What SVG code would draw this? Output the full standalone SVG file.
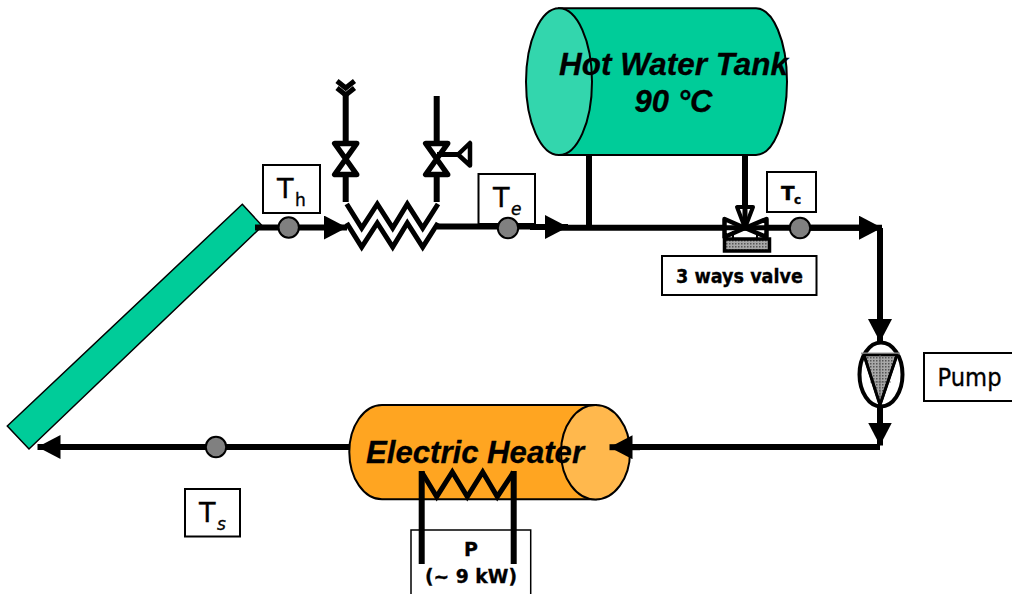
<svg xmlns="http://www.w3.org/2000/svg" width="1012" height="594" viewBox="0 0 1012 594">
<style>
.box{fill:#fff;stroke:#000;stroke-width:2}
.pipe{fill:none;stroke:#000;stroke-width:6}
.thin{fill:none;stroke:#000;stroke-width:5}
.vessel{stroke:#000;stroke-width:2}
.sensor{fill:#808080;stroke:#000;stroke-width:2}
.big{font-family:"Liberation Sans",Arial,sans-serif;font-weight:bold;font-style:italic;font-size:31px;fill:#000;stroke:#000;stroke-width:.3}
.lab{font-family:"DejaVu Sans",sans-serif;fill:#000;stroke:#000;stroke-width:.35}
.b{font-weight:bold}
</style>
<defs>
<marker id="arrow" viewBox="0 0 23 24" refX="23" refY="12" markerWidth="23" markerHeight="24" markerUnits="userSpaceOnUse" orient="auto"><path d="M0 0L23 12L0 24Z" fill="#000"/></marker>
<pattern id="stipple" width="3" height="3" patternUnits="userSpaceOnUse"><rect width="3" height="3" fill="#a8a8a8"/><rect width="1.5" height="1.5" fill="#555"/></pattern>
<g id="bowtie"><path d="M-11 -15.500H11L-11 15.500H11Z" fill="#fff" stroke="#000" stroke-width="5.500" stroke-linejoin="round"/></g>
</defs>
<rect width="1012" height="594" fill="#fff"/>

<g id="collector"><polygon points="242.3,204.3 262.3,226 29,449 7.3,426" fill="#00cc99" stroke="#000" stroke-width="1.5"/></g>

<g id="tank">
<path class="vessel" d="M559 8.3H756C773 8.3 787 41 787 81.7S773 155 756 155H559Z" fill="#00cc99"/>
<ellipse class="vessel" cx="559" cy="81.7" rx="33" ry="73.4" fill="#33d6ad"/>
<text class="big" x="559" y="75" textLength="229" lengthAdjust="spacingAndGlyphs">Hot Water Tank</text>
<text class="big" x="673.5" y="111.5" text-anchor="middle">90 °C</text>
</g>

<g id="heater">
<rect x="411" y="530" width="119.7" height="70" fill="#fff" stroke="#000" stroke-width="1.5"/>
<text class="lab b" x="471" y="556" font-size="19" text-anchor="middle">P</text>
<text class="lab b" x="471" y="582.5" font-size="19" text-anchor="middle" textLength="92" lengthAdjust="spacingAndGlyphs">(~ 9 kW)</text>
<path class="vessel" d="M596 405H382C364 405 349.300 426 349.300 452S364 499.300 382 499.300H596Z" fill="#ffa521"/>
<ellipse class="vessel" cx="595.500" cy="452.200" rx="34.500" ry="47.200" fill="#ffb84d"/>
<text class="big" x="366" y="463.300" textLength="218" lengthAdjust="spacingAndGlyphs">Electric Heater</text>
<path class="thin" d="M421.700 472L436.700 496.700L452.300 472L467.300 496.700L482.700 472L497.300 496.700L513.700 472"/>
<path class="pipe" d="M421.700 471V564M513.700 471V564"/>
</g>

<g id="label-th"><rect class="box" x="263" y="165" width="57" height="48"/><text class="lab" x="277" y="198" font-size="27">T</text><text class="lab" x="295" y="206" font-size="17">h</text></g>
<g id="label-te"><rect class="box" x="478.500" y="174" width="56.500" height="50"/><text class="lab" x="493" y="207" font-size="27">T</text><text class="lab" x="511" y="215" font-size="17" font-style="italic">e</text></g>
<g id="label-tc"><rect class="box" x="767" y="172" width="49" height="40"/><text class="lab b" x="781" y="199.500" font-size="20">T</text><text class="lab b" x="794" y="204" font-size="12">c</text></g>
<g id="label-ts"><rect class="box" x="185" y="489" width="55" height="47.500"/><text class="lab" x="199" y="522" font-size="27">T</text><text class="lab" x="217" y="530" font-size="17" font-style="italic">s</text></g>
<g id="label-valve"><rect class="box" x="662" y="256" width="154.500" height="39"/><text class="lab b" x="739.500" y="283" font-size="19" text-anchor="middle" textLength="127" lengthAdjust="spacingAndGlyphs">3 ways valve</text></g>
<g id="label-pump"><rect class="box" x="924" y="353" width="90" height="48"/><text class="lab" x="937.500" y="386" font-size="25" textLength="64" lengthAdjust="spacingAndGlyphs">Pump</text></g>

<g id="connectors">
<path class="pipe" d="M255 227.500H300"/>
<path class="pipe" d="M300 227.500H347" marker-end="url(#arrow)"/>
<path class="pipe" d="M437 226.500H530"/>
<path class="pipe" d="M530 227H568" marker-end="url(#arrow)"/>
<path class="pipe" d="M560 227.700H860"/>
<path class="pipe" d="M810 227.700H882" marker-end="url(#arrow)"/>
<path class="pipe" d="M589 155V228"/>
<path class="pipe" d="M745 155V222"/>
<path class="pipe" d="M880 228V342" marker-end="url(#arrow)"/>
<path class="pipe" d="M880 405V445.500" marker-end="url(#arrow)"/>
<path class="pipe" d="M880 447H632"/>
<path class="pipe" d="M640 447.200H609.500" marker-end="url(#arrow)"/>
<path class="pipe" d="M349 447H37.500" marker-end="url(#arrow)"/>
<path class="thin" d="M346.700 204L361.700 228L377.300 204L392.700 228L407.300 204L422.700 228L438 204"/>
<path class="thin" d="M346.700 223L361.700 247L377.300 223L392.700 247L407.300 223L422.700 247L438 223"/>
<path class="pipe" d="M345.700 92V141M345.700 176V202"/>
<path class="pipe" d="M436.700 96V141M436.700 176V202"/>
</g>

<g id="vent-valve">
<use href="#bowtie" x="345.700" y="159"/>
<path d="M337 81L345.700 88L354.500 81" fill="none" stroke="#000" stroke-width="5"/>
<path d="M337 88L345.700 95L354.500 88" fill="none" stroke="#000" stroke-width="5"/>
</g>
<g id="relief-valve">
<use href="#bowtie" x="436.700" y="159"/>
<path d="M437 154.500H458" class="thin"/>
<path d="M458 154.500L470 143V165.500Z" fill="#fff" stroke="#000" stroke-width="4.500" stroke-linejoin="round"/>
</g>

<g id="three-way-valve">
<path d="M724.500 219L745 228L724.500 237ZM766.500 219L745 228L766.500 237Z" fill="#fff" stroke="#000" stroke-width="4.500" stroke-linejoin="round"/>
<path d="M737 207H753L745 228Z" fill="#fff" stroke="#000" stroke-width="4" stroke-linejoin="round"/>
<path d="M745 205V224" class="thin"/>
<path d="M724.500 227.700H766.500" class="thin"/>
<path d="M733 238V231M757 238V231" stroke="#000" stroke-width="2"/>
<rect x="724.500" y="239" width="45" height="12" fill="url(#stipple)" stroke="#000" stroke-width="3.500"/>
</g>

<g id="pump">
<ellipse cx="881" cy="374.500" rx="21.500" ry="32" fill="#fff" stroke="#000" stroke-width="4"/>
<path d="M861 353.500H900" stroke="#999" stroke-width="2"/>
<path d="M864 355H897L880 405Z" fill="url(#stipple)" stroke="#000" stroke-width="2.500"/>
<path d="M880 355V405M870 382H891" stroke="#666" stroke-width="0.800"/>
<path d="M864 355L880 405L897 355" fill="none" stroke="#000" stroke-width="3"/>
</g>

<g id="sensor-th"><circle class="sensor" cx="288.700" cy="227.500" r="10.200"/></g>
<g id="sensor-te"><circle class="sensor" cx="508" cy="228" r="10.200"/></g>
<g id="sensor-tc"><circle class="sensor" cx="800" cy="228" r="10.200"/></g>
<g id="sensor-ts"><circle class="sensor" cx="216" cy="447" r="10.200"/></g>
</svg>
